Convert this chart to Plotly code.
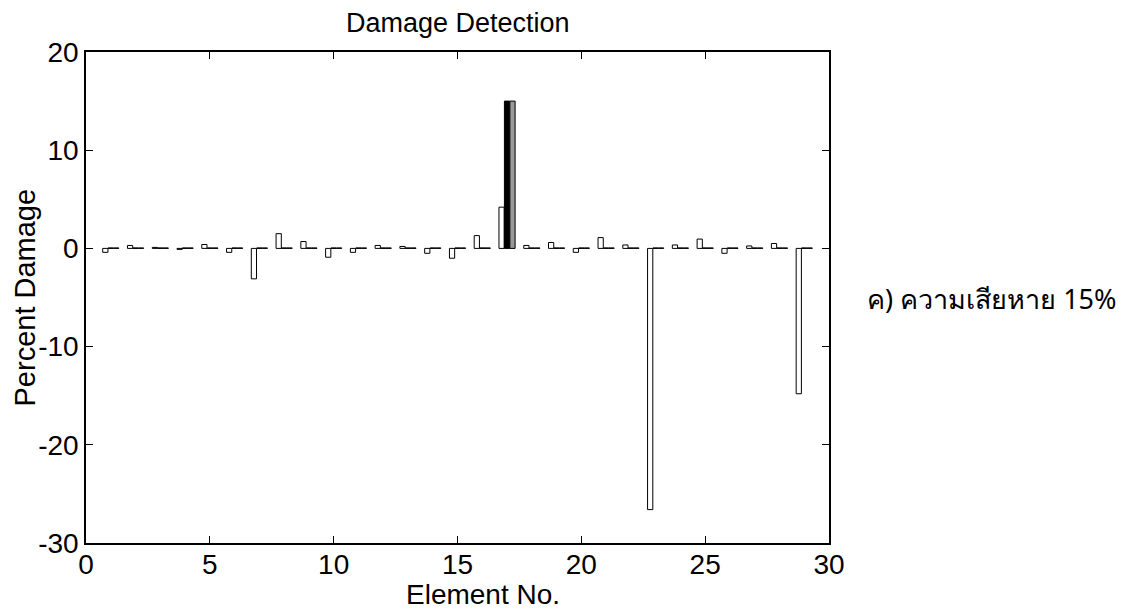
import plotly.graph_objects as go

elements = list(range(1, 30))
detected = [-0.4, 0.3, 0.1, -0.1, 0.4, -0.4, -3.1, 1.5, 0.7, -0.9,
            -0.4, 0.3, 0.2, -0.5, -1.0, 1.3, 4.2, 0.3, 0.6, -0.4,
            1.1, 0.35, -26.6, 0.35, 0.95, -0.5, 0.25, 0.5, -14.8]
actual = [0.05] * 16 + [15.0] + [0.05] * 12
second = [0.05] * 16 + [15.0] + [0.05] * 12

font = "Liberation Sans, Arial, sans-serif"

fig = go.Figure()
fig.add_trace(go.Bar(x=elements, y=detected, marker=dict(color="white", line=dict(color="black", width=1)), name="detected"))
fig.add_trace(go.Bar(x=elements, y=actual, marker=dict(color="black", line=dict(color="black", width=1)), name="actual"))
fig.add_trace(go.Bar(x=elements, y=second, marker=dict(color="#999999", line=dict(color="black", width=1)), name="case"))

# page body has an 8px margin, so the figure is sized and offset to land on the reference pixels
fig.update_layout(
    width=1126, height=606,
    margin=dict(l=78, r=305, t=44, b=71),
    paper_bgcolor="white", plot_bgcolor="white",
    barmode="group", bargap=0.34, bargroupgap=0.04,
    showlegend=False,
    font=dict(family=font, color="black", size=28),
)
fig.update_xaxes(range=[0, 30], tickvals=[0, 5, 10, 15, 20, 25, 30], ticks="inside", ticklen=7,
                 tickcolor="black", showline=True, linecolor="black", linewidth=1.5, mirror="ticks",
                 showgrid=False, zeroline=False, tickfont=dict(size=28), ticklabelstandoff=-4)
fig.update_yaxes(range=[-30, 20], tickvals=[-30, -20, -10, 0, 10, 20], ticktext=["-30", "-20", "-10", "0", "10", "20"],
                 ticks="inside", ticklen=7,
                 tickcolor="black", showline=True, linecolor="black", linewidth=1.5, mirror="ticks",
                 showgrid=False, zeroline=False, tickfont=dict(size=28), ticklabelstandoff=0)

fig.add_annotation(text="Damage Detection", xref="paper", yref="paper", x=0.5, y=1, yshift=12,
                   xanchor="center", yanchor="bottom", showarrow=False, font=dict(size=27, family=font))
fig.add_annotation(text="Element No.", xref="paper", yref="paper", x=(483 - 86) / 743, y=0, yshift=-34,
                   xanchor="center", yanchor="top", showarrow=False, font=dict(size=28, family=font))
fig.add_annotation(text="Percent Damage", xref="paper", yref="paper", x=0, xshift=-62, y=0.5, textangle=-90,
                   xanchor="center", yanchor="middle", showarrow=False, font=dict(size=29, family=font))
fig.add_annotation(text="ค) ความเสียหาย 15%", xref="paper", yref="paper", x=(865 - 86) / 743, y=(543 - 298) / 491,
                   xanchor="left", yanchor="middle", showarrow=False,
                   font=dict(size=27, family="Noto Sans, Tahoma, sans-serif"))

fig.write_html("out.html")
